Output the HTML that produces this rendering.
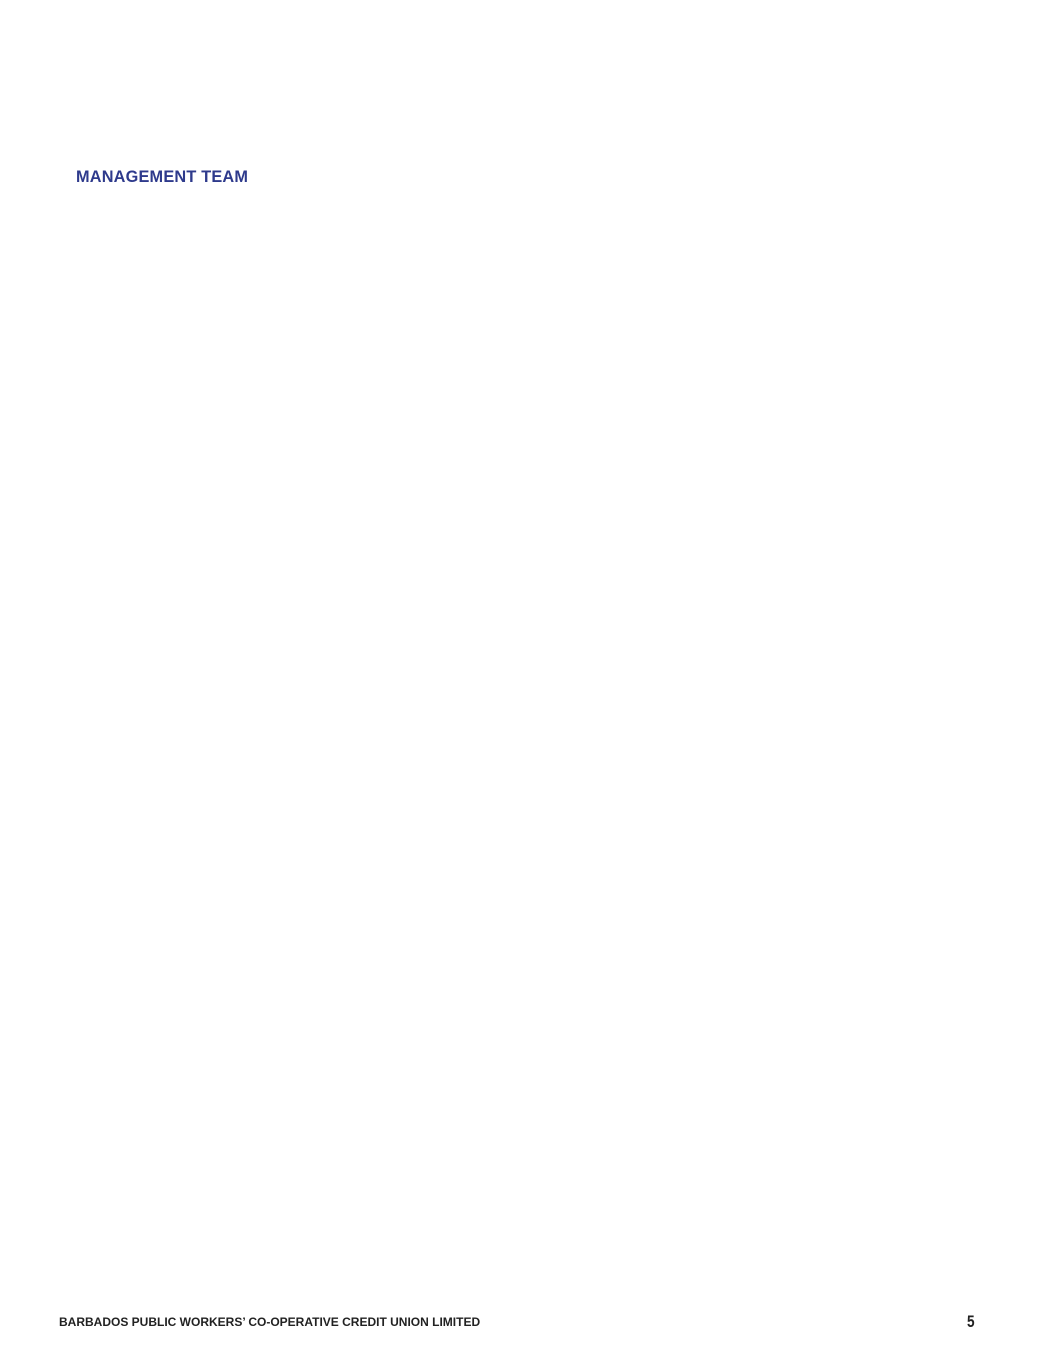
<!DOCTYPE html>
<html><head><meta charset="utf-8"><style>
html,body{margin:0;padding:0;background:#fff;width:1061px;height:1350px;overflow:hidden;position:relative;font-family:"Liberation Sans",sans-serif}
.t{position:absolute;left:76px;top:168px;font-size:16.3px;font-weight:bold;color:#2e3a8c;white-space:nowrap;letter-spacing:0.2px}
.f{position:absolute;left:59px;top:1315px;font-size:12px;font-weight:bold;color:#222;white-space:nowrap}
.n{position:absolute;left:967px;top:1312px;font-size:17px;font-weight:bold;color:#222;transform:scaleX(0.8);transform-origin:left}
</style></head><body>
<div class="t">MANAGEMENT TEAM</div>
<div class="f">BARBADOS PUBLIC WORKERS’ CO-OPERATIVE CREDIT UNION LIMITED</div>
<div class="n">5</div>
</body></html>
